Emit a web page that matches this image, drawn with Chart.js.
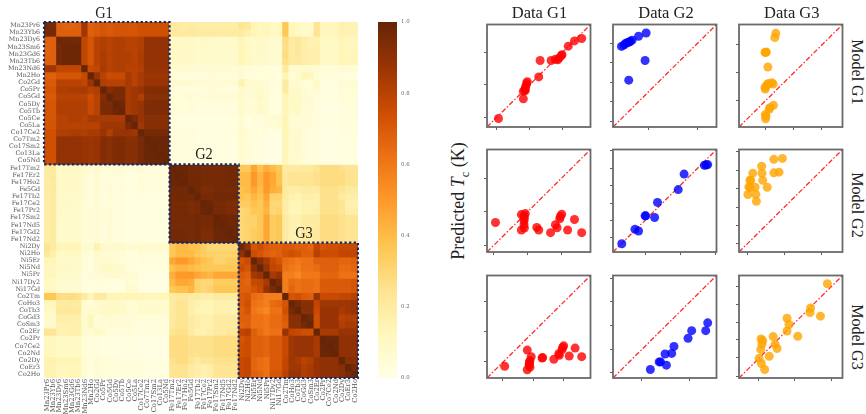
<!DOCTYPE html>
<html><head><meta charset="utf-8">
<script src="https://cdn.jsdelivr.net/npm/chart.js@4"></script>
<style>
html,body{margin:0;padding:0;background:#fff;width:866px;height:414px;overflow:hidden}
canvas{position:absolute;display:block}
.t{position:absolute;font-family:"Liberation Serif",serif;color:#222;white-space:nowrap;line-height:1;transform:translate(-50%,-50%)}
.t sub{font-size:.7em;line-height:0}
</style></head><body>
<script>
// ---------- heatmap data (percent similarity) ----------
const compounds=["Mn23Pr6","Mn23Yb6","Mn23Dy6","Mn23Sm6","Mn23Gd6","Mn23Tb6","Mn23Nd6","Mn2Ho","Co2Gd","Co5Pr","Co5Gd","Co5Dy","Co5Tb","Co5Ce","Co5La","Co17Ce2","Co7Tm2","Co17Sm2","Co13La","Co5Nd",
"Fe17Tm2","Fe17Er2","Fe17Ho2","Fe5Gd","Fe17Tb2","Fe17Ce2","Fe17Pr2","Fe17Sm2","Fe17Nd5","Fe17Gd2","Fe17Nd2",
"Ni2Dy","Ni2Ho","Ni5Er","Ni5Nd","Ni5Pr","Ni17Dy2","Ni17Gd","Co2Tm","CoHo3","CoTb3","CoGd3","CoSm3","Co2Er","Co2Pr","Co7Ce2","Co2Nd","Co2Dy","CoEr3","Co2Ho"];
const groupBounds=[[0,20],[20,31],[31,50]];
const colorbarTicks=[0,0.2,0.4,0.6,0.8,1];
const ylOrBrStops=["#ffffe5","#fff7bc","#fee391","#fec44f","#fe9929","#ec7014","#cc4c02","#993404","#662506"];

const g1Upper=[
[97,96,68,67,67,68,86,68,70,72,70,72,72,72,72,74,74,74,74,74],
[97,68,68,68,68,86,68,70,72,70,72,72,72,72,74,74,74,74,74],
[98,97,97,97,78,72,80,82,80,82,82,80,80,82,89,89,89,89],
[98,98,98,78,72,80,82,80,82,82,80,80,82,89,89,89,89],
[98,98,78,72,80,83,80,82,82,82,80,83,89,89,89,89],
[98,78,72,80,83,80,82,82,82,80,83,89,89,89,89],
[100,76,78,84,80,82,82,80,80,82,88,88,88,88],
[100,88,80,75,76,76,84,80,84,87,87,87,87],
[100,82,80,80,80,84,80,84,88,88,88,88],
[100,93,95,95,84,86,88,93,93,93,93],
[100,95,95,84,86,82,92,92,92,92],
[100,98,84,86,88,94,94,94,94],
[100,84,86,88,94,94,94,94],
[100,95,88,92,92,92,92],
[100,86,92,92,92,92],
[100,96,96,96,96],
[100,99,99,99],
[100,99,99],
[100,99],
[100]];
const g1g2=[
[20,20,19,20,19,19,19,19,19,19,19],
[21,21,20,21,20,20,20,20,20,20,20],
[10,10,9,9,8,9,9,8,8,8,8],
[9,9,9,9,8,9,8,8,8,8,8],
[10,9,9,9,8,8,8,8,8,8,8],
[9,9,9,9,8,8,8,8,8,8,8],
[7,7,6,6,5,5,5,5,5,5,5],
[4,3,3,3,3,3,4,4,4,4,4],
[7,6,6,6,5,5,5,5,5,5,5],
[4,3,3,3,3,3,4,4,3,3,3],
[4,4,4,5,4,4,5,5,5,5,5],
[4,4,3,4,3,3,3,3,3,3,3],
[4,4,3,4,3,3,3,3,3,3,3],
[3,2,2,2,2,2,2,2,2,2,2],
[3,2,2,3,2,2,2,2,2,2,2],
[4,3,4,4,3,3,3,3,3,3,3],
[3,3,3,3,2,2,2,2,2,2,2],
[3,3,3,3,2,2,2,2,2,2,2],
[3,3,3,3,2,2,2,2,2,2,2],
[3,3,3,3,2,2,2,2,2,2,2]];
const g1g3=[
[24,22,14,12,13,10,11,36,12,10,8,8,24,12,12,12,16,15,15],
[20,17,14,12,13,10,11,36,13,10,8,8,24,12,12,12,16,15,15],
[14,10,8,9,8,6,6,28,20,22,18,16,16,10,10,10,14,12,12],
[13,10,8,9,8,6,6,27,20,22,18,16,16,10,10,10,14,12,12],
[14,10,8,9,8,6,6,28,20,22,18,17,17,10,10,10,14,13,13],
[14,11,8,8,8,6,6,26,20,21,18,17,17,10,10,10,14,13,13],
[6,5,4,4,3,3,3,20,7,7,6,6,7,4,4,4,5,5,5],
[6,3,3,2,4,3,2,14,4,7,13,12,4,3,3,3,3,2,2],
[16,8,7,6,5,3,3,20,6,6,4,4,10,3,3,3,5,5,5],
[8,6,6,8,5,3,3,20,8,10,5,4,7,2,2,2,4,4,4],
[8,5,6,10,7,2,3,14,9,10,6,5,3,2,2,2,4,4,4],
[8,5,4,8,7,2,2,14,9,10,5,5,3,1,1,1,3,3,3],
[8,5,4,8,7,2,2,13,8,9,5,5,3,1,1,1,3,3,3],
[6,2,4,3,5,5,6,14,5,5,5,5,4,2,2,2,3,3,3],
[6,2,3,3,5,4,6,14,5,5,4,4,3,2,2,2,3,3,3],
[7,5,4,2,3,1,1,14,7,8,4,3,3,1,1,1,3,3,3],
[7,4,3,3,1,1,1,13,7,8,4,3,3,1,1,1,2,2,2],
[7,4,3,3,1,1,1,13,7,8,4,3,3,1,1,1,2,2,2],
[7,4,3,3,1,1,1,13,7,7,4,3,3,1,1,1,2,2,2],
[7,4,3,3,1,1,1,13,7,7,4,3,3,1,1,1,2,2,2]];
const g2Upper=[
[100,99,99,97,97,96,96,96,96,97,97],
[100,99,97,97,96,96,96,96,97,97],
[100,97,97,96,96,96,96,97,97],
[100,97,94,94,96,96,96,96],
[100,96,96,97,97,97,97],
[100,99,96,96,94,94],
[100,96,96,94,94],
[100,99,98,98],
[100,98,98],
[100,99],
[100]];
const g2g3=[
[36,36,46,38,44,40,36,20,20,20,21,21,24,28,28,28,26,24,24],
[40,40,50,42,50,46,38,22,24,24,24,24,26,28,28,28,28,25,25],
[40,40,50,42,50,46,38,22,24,24,24,24,26,28,28,28,28,25,25],
[38,40,46,40,50,44,42,20,18,18,20,20,20,26,26,26,24,20,20],
[38,36,42,38,46,32,32,20,16,14,18,18,16,26,26,26,20,18,18],
[34,34,38,36,44,30,30,18,14,14,16,16,16,26,26,26,24,16,16],
[30,32,36,36,42,30,32,18,14,14,16,16,18,26,26,26,24,18,18],
[30,32,32,36,46,34,36,20,16,16,20,20,20,28,28,28,26,24,24],
[30,32,32,36,46,34,36,20,16,16,20,20,20,28,28,28,26,24,24],
[30,32,34,36,46,34,36,20,16,16,20,20,22,28,28,28,26,24,24],
[30,32,34,36,46,34,36,20,16,16,20,20,22,28,28,28,26,24,24]];
const g3Upper=[
[98,90,72,75,70,68,68,70,70,68,68,66,78,72,74,74,76,76,76],
[100,75,72,68,66,68,72,74,72,68,68,80,75,75,75,78,78,78],
[100,92,85,76,72,64,62,60,62,62,68,68,68,68,66,66,68],
[100,88,78,76,62,60,58,62,62,64,68,68,68,64,64,66],
[100,84,88,58,58,55,60,60,60,66,66,66,62,62,62],
[100,95,58,64,62,64,64,62,70,70,70,70,70,72],
[100,58,66,62,64,64,62,70,70,70,70,70,72],
[100,72,74,70,68,88,76,76,76,78,78,80],
[100,96,92,92,78,86,86,86,86,86,88],
[100,92,92,76,88,88,88,84,86,88],
[100,97,74,88,88,88,80,82,82],
[100,74,88,88,88,82,84,84],
[100,84,84,84,88,88,88],
[100,99,99,90,90,90],
[100,99,90,90,90],
[100,90,90,90],
[100,92,92],
[100,96],
[100]];

// ---------- scatter data: [measured, predicted], axis units 0-100 ----------
const m1d1=[[11.1,8.3],[35.1,27.5],[35.1,34.8],[37,35.5],[36.4,36.1],[37,38],[37.7,40.3],[38.3,42.5],[38.9,44.1],[50,48.9],[51.3,64.9],[62,64.9],[66.1,66.1],[68.4,65.5],[69.9,67.4],[71.8,69.7],[72.5,70.6],[78.5,78.9],[84.5,84],[91.5,86.3]];
const m1d2=[[8.2,78.6],[10.4,79.9],[12.3,81.5],[13.9,82.4],[15.5,82.8],[16.8,83.7],[18.4,84.7],[24.7,88.5],[32,91.7],[31,64.9],[15.2,45.7]];
const m1d3=[[35.6,91.4],[34.6,87.2],[25.1,72.8],[26.4,73.2],[25.7,72.8],[27.9,58.5],[25.4,37.1],[25.1,38.7],[26.7,40.3],[27.6,41.9],[29.2,42.5],[31.8,43.1],[33,41.9],[33.3,21.1],[29.8,18.9],[29.2,17.3],[26,10.5],[25.4,12.1],[25.7,8]];
const m2d1=[[8.2,28.8],[33.2,36.5],[37,37.5],[35.8,35.6],[36.1,33],[35.8,30.4],[35.8,26.6],[36.1,23.4],[33.2,21.5],[48.1,24],[50,21.5],[61.4,18.9],[66.1,26.6],[67.7,23.7],[70.3,32.4],[70.9,34.6],[72.2,36.9],[77.9,21.5],[84.5,31.7],[91.5,18.9]];
const m2d2=[[8.5,8],[21.2,22.1],[24.7,20.5],[31,35.3],[31.6,35.3],[40.2,33.7],[43,48.4],[63,60.9],[68.7,76],[88.3,84.6],[89.9,84.9],[91.5,85.3]];
const m2d3=[[41.9,91.3],[33.7,90.4],[21.9,83.7],[13.3,76.9],[22.2,76.9],[33.7,77.2],[38.7,77.9],[10.5,69.9],[11.4,69.9],[22.9,69.9],[9.5,63.5],[10.8,62.8],[15.6,63.1],[27.3,63.1],[8.6,56.1],[16.2,56.1],[16.8,49.4]];
const m3d1=[[17.1,11.5],[38.9,27.2],[38.9,8],[41.5,10.6],[40.8,12.5],[40.8,13.8],[41.1,15.7],[41.5,17],[42.7,20.8],[53.2,19.5],[53.8,19.9],[64.6,18.3],[69.3,23.7],[69.9,22.1],[72.5,27.6],[73.1,29.8],[74.1,31.4],[79.4,21.5],[85.1,29.2],[91.5,20.8]];
const m3d2=[[36.1,8.3],[44.6,15.7],[45.9,15.7],[51.6,12.5],[50.3,23.4],[56.7,24],[58.9,30.8],[72.5,38.8],[76,46.2],[89.6,46.2],[91.5,53.8]];
const m3d3=[[85.4,92],[69.2,68.3],[68.6,63.8],[78.7,60.3],[46.4,58.3],[48.3,52.2],[46.4,45.8],[56.8,40.7],[33,40.4],[21.3,38.1],[22.9,36.5],[22.2,33],[34.9,33],[36.8,28.8],[21,27.9],[29.2,21.2],[19.4,19.2],[21.6,14.1],[24.8,8.3]];

const xTicks=[[9.5,41.1,72.5],[34.2,82],[25.4,52.7,79.7],
              [6.6,39.2,71.8],[31,64.9,99],[7.9,43.8,79.7],
              [15.2,44.6,74.1],[27.9,73.7],[19.1,54,88.9]];
const yTicks=[[9.6,41.2,72.8],[5.1,24.6,43.8,62.6,81.8],[25.9,53,80.2],
              [6.4,39.1,72.1],[13.8,30.8,47.8,64.7,81.7,98.7],[8,26,43.9,61.9,79.8,97.8],
              [15.7,45.2,74.7],[5.1,28.2,51.3,74.4,97.4],[1.9,19.6,37.2,54.5,72.1,89.7]];
const identityLine=[[0,0],[100,100]];
const columnTitles=["Data G1","Data G2","Data G3"];
const rowTitles=["Model G1","Model G2","Model G3"];
const groupNames=["G1","G2","G3"];
const seriesColors=["rgba(255,0,0,.8)","rgba(0,0,255,.8)","rgba(255,165,0,.8)"];

// ---------- assemble symmetric matrix ----------
const N=compounds.length;
const M=Array.from({length:N},()=>new Array(N).fill(0));
function put(i,j,v){M[i][j]=v/100;M[j][i]=v/100;}
function putBlock(rows,r0,c0){rows.forEach((r,i)=>r.forEach((v,j)=>put(r0+i,c0+j,v)));}
function putUpper(rows,s){rows.forEach((r,i)=>r.forEach((v,j)=>put(s+i,s+i+j,v)));}
putUpper(g1Upper,0);putUpper(g2Upper,20);putUpper(g3Upper,31);
putBlock(g1g2,0,20);putBlock(g1g3,0,31);putBlock(g2g3,20,31);

function hex(c){return [1,3,5].map(i=>parseInt(c.substr(i,2),16));}
function cmap(v){
  const n=ylOrBrStops.length-1,p=Math.min(Math.max(v,0),1)*n,i=Math.min(Math.floor(p),n-1),t=p-i;
  const a=hex(ylOrBrStops[i]),b=hex(ylOrBrStops[i+1]);
  return `rgb(${a.map((x,k)=>Math.round(x+(b[k]-x)*t)).join(",")})`;
}
function addCanvas(l,t,w,h){const c=document.createElement("canvas");c.width=w;c.height=h;c.style.cssText=`left:${l}px;top:${t}px;width:${w}px;height:${h}px`;document.body.appendChild(c);return c;}
function addText(html,x,y,size,rot,sx){const d=document.createElement("div");d.className="t";d.innerHTML=html;
  d.style.left=x+"px";d.style.top=y+"px";d.style.fontSize=size+"px";
  d.style.transform=`translate(-50%,-50%) ${rot?`rotate(${rot}deg)`:""} ${sx?`scaleX(${sx})`:""}`;document.body.appendChild(d);}

Chart.defaults.animation=false;
Chart.defaults.plugins.legend.display=false;
Chart.defaults.plugins.tooltip.enabled=false;
const labelFont="'DejaVu Serif',serif";
const labelColor="#555";

// ---------- heatmap ----------
const groupBoxes={id:"groupBoxes",afterDatasetsDraw(ch){
  const c=ch.ctx,x=ch.scales.x,y=ch.scales.y,w=x.width/N;
  c.save();c.strokeStyle="#0b2a6e";c.lineWidth=2.2;c.setLineDash([2.3,2.3]);
  groupBounds.forEach(([a,b])=>{
    const x0=x.left+a*w,x1=x.left+b*w,y0=y.getPixelForValue(a),y1=y.getPixelForValue(b);
    c.strokeRect(x0,y0,x1-x0,y1-y0);
  });c.restore();}};
new Chart(addCanvas(0,0,364,414),{type:"bar",
  data:{labels:compounds,datasets:M.map(row=>({data:row.map(()=>1),backgroundColor:row.map(cmap),
    barPercentage:1,categoryPercentage:1,borderWidth:0,inflateAmount:0.4}))},
  options:{responsive:false,layout:{padding:{top:22,right:4,left:0,bottom:0}},
    scales:{
      x:{stacked:true,grid:{display:false,drawTicks:false},border:{display:false},
        afterFit(s){s.height=36;},
        ticks:{autoSkip:false,minRotation:90,maxRotation:90,padding:1,font:{family:labelFont,size:6.8},color:labelColor}},
      y:{stacked:true,reverse:true,min:0,max:N,grid:{display:false,drawTicks:false},border:{display:false},
        afterFit(s){s.width=44;},
        afterBuildTicks(s){s.ticks=compounds.map((_,i)=>({value:i+0.5}));},
        ticks:{autoSkip:false,padding:4,font:{family:labelFont,size:6.3},color:labelColor,
          callback:v=>compounds[Math.floor(v)]}}
    }},plugins:[groupBoxes]});

// ---------- colour bar ----------
new Chart(addCanvas(378,0,40,414),{type:"bar",
  data:{labels:["scale"],datasets:[{data:[[0,1]],barPercentage:1,categoryPercentage:1,borderWidth:0,borderSkipped:false,
    backgroundColor(ctx){const a=ctx.chart.chartArea;if(!a)return "#fff";
      const g=ctx.chart.ctx.createLinearGradient(0,a.bottom,0,a.top);
      ylOrBrStops.forEach((s,i)=>g.addColorStop(i/(ylOrBrStops.length-1),s));return g;}}]},
  options:{responsive:false,layout:{padding:{top:22,bottom:36,left:0,right:0}},
    scales:{x:{display:false},
      y:{position:"right",min:0,max:1,grid:{display:false,drawTicks:false},border:{display:false},
        afterFit(s){s.width=21;},
        afterBuildTicks(s){s.ticks=colorbarTicks.map(v=>({value:v}));},
        ticks:{padding:4,font:{family:labelFont,size:5.4},color:"#666",callback:v=>v.toFixed(1)}}}}});

// ---------- scatter grid ----------
const colLeft=[487,613,739.3],rowTop=[23,148,273.5],panelW=105,panelH=104;
const frame={id:"frame",afterDatasetsDraw(ch){const c=ch.ctx,a=ch.chartArea;c.save();c.strokeStyle="#6a6a6a";c.lineWidth=1.8;c.strokeRect(a.left,a.top,a.width,a.height);c.restore();}};
const panels=[m1d1,m1d2,m1d3,m2d1,m2d2,m2d3,m3d1,m3d2,m3d3];
const pts=a=>a.map(([x,y])=>({x,y}));
panels.forEach((d,k)=>{
  const col=k%3,row=Math.floor(k/3),mL=7,mB=7,mT=3,mR=3;
  const cv=addCanvas(colLeft[col]-mL,rowTop[row]-mT,panelW+mL+mR,panelH+mT+mB);
  const axis=(tk,fit)=>({type:"linear",min:0,max:100,
    grid:{drawOnChartArea:false,tickLength:3,tickColor:"#333",tickWidth:0.8},border:{display:false},
    ticks:{display:false},afterBuildTicks(s){s.ticks=tk.map(v=>({value:v}));},afterFit:fit});
  new Chart(cv,{type:"scatter",
    data:{datasets:[
      {data:pts(d),backgroundColor:seriesColors[col],borderWidth:0,pointRadius:4.5,pointHoverRadius:4.5},
      {data:pts(identityLine),showLine:true,pointRadius:0,borderColor:"rgba(255,30,30,.95)",borderWidth:1.3,borderDash:[5,2,1.5,2]}
    ]},
    options:{responsive:false,layout:{padding:{top:mT,right:mR,left:0,bottom:0}},
      scales:{x:axis(xTicks[k],s=>{s.height=mB;}),y:axis(yTicks[k],s=>{s.width=mL;})}},
    plugins:[frame]});
});

// ---------- text ----------
const colCentre=[539.5,666,791.8],rowCentre=[72,205,337];
columnTitles.forEach((t,i)=>addText(t,colCentre[i],12.5,16.5));
rowTitles.forEach((t,i)=>addText(t,857,rowCentre[i],16,90));
addText('Predicted <i>T</i><sub>c</sub> (K)',458,201,18,-90);
addText(groupNames[0],103.7,13,16,0,.9);
addText(groupNames[1],204,154,16,0,.9);
addText(groupNames[2],303.5,233,16,0,.9);
</script>
</body></html>
